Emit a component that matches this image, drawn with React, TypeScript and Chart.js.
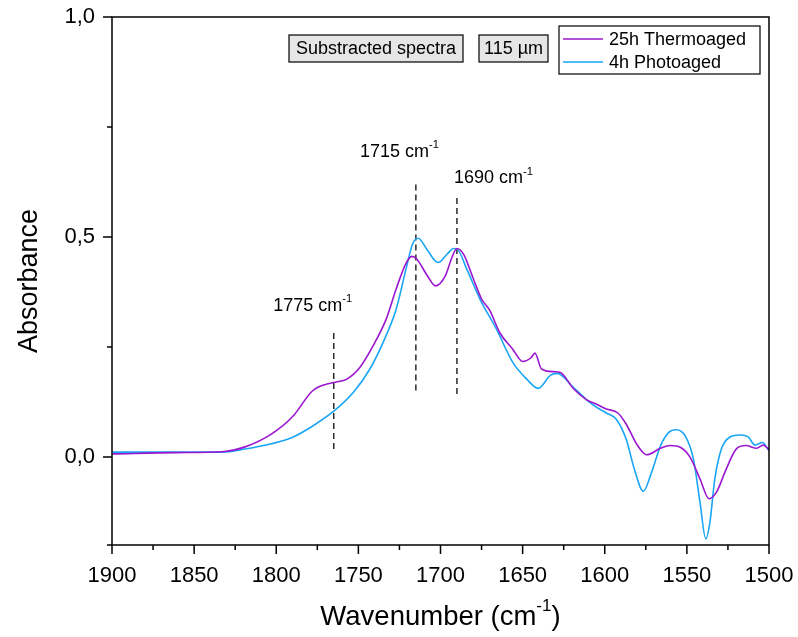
import React, { useEffect, useRef } from 'react';
import { Chart, registerables } from 'chart.js';

Chart.register(...registerables);

const FONT = '"Liberation Sans", Arial, Helvetica, sans-serif';

// 25h Thermoaged
const thermoWavenumber = [
  1900, 1860, 1833, 1819, 1803, 1790, 1778, 1770, 1764, 1757, 1749, 1741, 1733, 1727, 1721,
  1717.5, 1714.5, 1708, 1703, 1697, 1693, 1690, 1686, 1680, 1675, 1670, 1664, 1656, 1650,
  1645, 1642.5, 1638.5, 1631, 1627, 1619, 1611, 1605, 1599, 1592, 1587, 1580, 1574.5, 1566,
  1560, 1554, 1548, 1542, 1536.5, 1532, 1526, 1520, 1514, 1507.5, 1503.5, 1500,
];
const thermoAbsorbance = [
  0.007, 0.010, 0.012, 0.023, 0.052, 0.092, 0.150, 0.165, 0.170, 0.177, 0.204, 0.253, 0.314, 0.382, 0.440,
  0.456, 0.450, 0.412, 0.389, 0.412, 0.454, 0.474, 0.461, 0.405, 0.359, 0.333, 0.283, 0.245, 0.217,
  0.225, 0.236, 0.200, 0.194, 0.192, 0.155, 0.130, 0.120, 0.109, 0.100, 0.075, 0.026, 0.005, 0.020,
  0.026, 0.022, -0.001, -0.050, -0.095, -0.080, -0.027, 0.018, 0.026, 0.020, 0.027, 0.017,
];

// 4h Photoaged
const photoWavenumber = [
  1900, 1860, 1833, 1819, 1803, 1790, 1778, 1765, 1753, 1743, 1735, 1727, 1721, 1717, 1713.5,
  1708.5, 1701.5, 1696, 1692, 1690, 1684, 1676, 1666, 1656, 1647.5, 1640.5, 1633, 1629, 1619,
  1611, 1605, 1599, 1593, 1587, 1582, 1576.5, 1571.5, 1566, 1561, 1556.5, 1551, 1546, 1542,
  1538.5, 1536, 1533, 1529, 1524, 1517.5, 1512.5, 1508.5, 1504, 1500,
];
const photoAbsorbance = [
  0.011, 0.011, 0.011, 0.018, 0.030, 0.045, 0.070, 0.104, 0.147, 0.200, 0.260, 0.336, 0.427, 0.484, 0.497,
  0.473, 0.442, 0.461, 0.474, 0.473, 0.427, 0.359, 0.291, 0.215, 0.177, 0.156, 0.186, 0.190, 0.158,
  0.130, 0.113, 0.100, 0.086, 0.041, -0.027, -0.078, -0.035, 0.026, 0.056, 0.062, 0.048, -0.005, -0.103,
  -0.186, -0.149, -0.050, 0.018, 0.045, 0.050, 0.045, 0.027, 0.033, 0.014,
];

const seriesLabels = ['25h Thermoaged', '4h Photoaged'];
const seriesColors = ['#9b17cf', '#1aa6f5'];

// dashed peak markers
const markerX = [1765, 1715, 1690];
const markerTop = [0.29, 0.628, 0.594];
const markerBottom = [0.018, 0.151, 0.143];
const markerLabels = ['1775 cm', '1715 cm', '1690 cm'];
const markerLabelX = [1801.8, 1749, 1691.8];
const markerLabelY = [0.344, 0.693, 0.633];

const xMajorTicks = [1900, 1850, 1800, 1750, 1700, 1650, 1600, 1550, 1500];
const xMinorTicks = [1875, 1825, 1775, 1725, 1675, 1625, 1575, 1525];
const yMajorTicks = [0, 0.5, 1.0];
const yMinorTicks = [-0.2, 0.25, 0.75];
const xRange = [1500, 1900];
const yRange = [-0.2, 1.0];

const infoBoxes = ['Substracted spectra', '115 µm'];

type Part = { t: string; sup?: boolean };

function drawParts(ctx: CanvasRenderingContext2D, parts: Part[], x: number, y: number, size: number, align: 'left' | 'center') {
  const supSize = size * 0.62;
  const widths = parts.map((p) => {
    ctx.font = `${p.sup ? supSize : size}px ${FONT}`;
    return ctx.measureText(p.t).width;
  });
  const total = widths.reduce((a, b) => a + b, 0);
  let cx = align === 'center' ? x - total / 2 : x;
  ctx.textAlign = 'left';
  ctx.textBaseline = 'middle';
  parts.forEach((p, i) => {
    ctx.font = `${p.sup ? supSize : size}px ${FONT}`;
    ctx.fillText(p.t, cx, p.sup ? y - size * 0.38 : y);
    cx += widths[i];
  });
}

const decorPlugin = {
  id: 'decor',
  afterDraw(chart: any) {
    const { ctx, chartArea: a } = chart;
    const xs = chart.scales.x;
    const ys = chart.scales.y;
    ctx.save();
    ctx.strokeStyle = '#000';
    ctx.fillStyle = '#000';
    ctx.lineWidth = 1.5;
    // frame
    ctx.strokeRect(a.left, a.top, a.right - a.left, a.bottom - a.top);
    // ticks
    ctx.beginPath();
    xMajorTicks.forEach((v) => {
      const p = xs.getPixelForValue(v);
      ctx.moveTo(p, a.bottom);
      ctx.lineTo(p, a.bottom + 9);
    });
    xMinorTicks.forEach((v) => {
      const p = xs.getPixelForValue(v);
      ctx.moveTo(p, a.bottom);
      ctx.lineTo(p, a.bottom + 5);
    });
    yMajorTicks.forEach((v) => {
      const p = ys.getPixelForValue(v);
      ctx.moveTo(a.left, p);
      ctx.lineTo(a.left - 9, p);
    });
    yMinorTicks.forEach((v) => {
      const p = ys.getPixelForValue(v);
      ctx.moveTo(a.left, p);
      ctx.lineTo(a.left - 5, p);
    });
    ctx.stroke();

    // marker labels
    ctx.fillStyle = '#000';
    markerLabels.forEach((l, i) => {
      drawParts(ctx, [{ t: l }, { t: '-1', sup: true }], xs.getPixelForValue(markerLabelX[i]), ys.getPixelForValue(markerLabelY[i]), 18, 'left');
    });

    // info boxes
    const boxRects = [
      [289, 35, 174, 27],
      [479, 35, 69, 27],
    ];
    infoBoxes.forEach((t, i) => {
      const [bx, by, bw, bh] = boxRects[i];
      ctx.fillStyle = '#e6e6e6';
      ctx.fillRect(bx, by, bw, bh);
      ctx.lineWidth = 1.2;
      ctx.strokeStyle = '#000';
      ctx.strokeRect(bx, by, bw, bh);
      ctx.fillStyle = '#000';
      ctx.textAlign = 'center';
      ctx.textBaseline = 'middle';
      ctx.font = `18px ${FONT}`;
      ctx.fillText(t, bx + bw / 2, by + bh / 2 + 1);
    });

    // legend
    ctx.fillStyle = '#fff';
    ctx.fillRect(559, 26, 201, 48);
    ctx.lineWidth = 1.2;
    ctx.strokeStyle = '#000';
    ctx.strokeRect(559, 26, 201, 48);
    seriesLabels.forEach((l, i) => {
      const ly = 39 + i * 23;
      ctx.strokeStyle = seriesColors[i];
      ctx.lineWidth = 1.6;
      ctx.beginPath();
      ctx.moveTo(563, ly);
      ctx.lineTo(603, ly);
      ctx.stroke();
      ctx.fillStyle = '#000';
      ctx.font = `18px ${FONT}`;
      ctx.textAlign = 'left';
      ctx.textBaseline = 'middle';
      ctx.fillText(l, 609, ly + 1);
    });

    // axis titles
    ctx.fillStyle = '#000';
    drawParts(ctx, [{ t: 'Wavenumber (cm' }, { t: '-1', sup: true }, { t: ')' }], (a.left + a.right) / 2, 617, 27.5, 'center');
    ctx.save();
    ctx.translate(30, (a.top + a.bottom) / 2);
    ctx.rotate(-Math.PI / 2);
    drawParts(ctx, [{ t: 'Absorbance' }], 0, 0, 27, 'center');
    ctx.restore();

    ctx.restore();
  },
};

export default function App() {
  const ref = useRef<HTMLCanvasElement | null>(null);

  useEffect(() => {
    document.body.style.margin = '0';
    const canvas = ref.current;
    if (!canvas) return;
    const datasets: any[] = [
      {
        label: seriesLabels[0],
        data: thermoWavenumber.map((x, i) => ({ x, y: thermoAbsorbance[i] })),
        borderColor: seriesColors[0],
        borderWidth: 1.6,
        pointRadius: 0,
        cubicInterpolationMode: 'monotone',
        fill: false,
      },
      {
        label: seriesLabels[1],
        data: photoWavenumber.map((x, i) => ({ x, y: photoAbsorbance[i] })),
        borderColor: seriesColors[1],
        borderWidth: 1.6,
        pointRadius: 0,
        cubicInterpolationMode: 'monotone',
        fill: false,
      },
    ];
    markerX.forEach((mx, i) => {
      datasets.push({
        label: 'marker' + i,
        data: [
          { x: mx, y: markerBottom[i] },
          { x: mx, y: markerTop[i] },
        ],
        borderColor: '#2a2a2a',
        borderWidth: 1.5,
        borderDash: [6, 4],
        pointRadius: 0,
        tension: 0,
        fill: false,
      });
    });

    const chart = new Chart(canvas, {
      type: 'line',
      data: { datasets },
      options: {
        animation: false,
        responsive: false,
        maintainAspectRatio: false,
        devicePixelRatio: 1,
        layout: { padding: { left: 0, top: 17, right: 29, bottom: 0 } },
        plugins: {
          legend: { display: false },
          tooltip: { enabled: false },
        },
        scales: {
          x: {
            type: 'linear',
            reverse: true,
            min: xRange[0],
            max: xRange[1],
            grid: { display: false },
            border: { display: false },
            afterBuildTicks: (s: any) => {
              s.ticks = xMajorTicks.map((v) => ({ value: v }));
            },
            afterFit: (s: any) => {
              s.height = 92;
              s.paddingLeft = 0;
              s.paddingRight = 0;
              s.paddingTop = 0;
              s.paddingBottom = 0;
            },
            ticks: {
              color: '#000',
              font: { family: FONT, size: 22 },
              padding: 10,
              maxRotation: 0,
              autoSkip: false,
              callback: (v: any) => String(v),
            },
          },
          y: {
            type: 'linear',
            min: yRange[0],
            max: yRange[1],
            grid: { display: false },
            border: { display: false },
            afterBuildTicks: (s: any) => {
              s.ticks = yMajorTicks.map((v) => ({ value: v }));
            },
            afterFit: (s: any) => {
              s.width = 112;
              s.paddingLeft = 0;
              s.paddingRight = 0;
              s.paddingTop = 0;
              s.paddingBottom = 0;
            },
            ticks: {
              color: '#000',
              font: { family: FONT, size: 22 },
              padding: 9,
              autoSkip: false,
              callback: (v: any) => Number(v).toFixed(1).replace('.', ','),
            },
          },
        },
      },
      plugins: [decorPlugin],
    });
    return () => chart.destroy();
  }, []);

  return (
    <div style={{ width: 798, height: 637, background: '#fff' }}>
      <canvas ref={ref} width={798} height={637} style={{ display: 'block', width: 798, height: 637 }} />
    </div>
  );
}
